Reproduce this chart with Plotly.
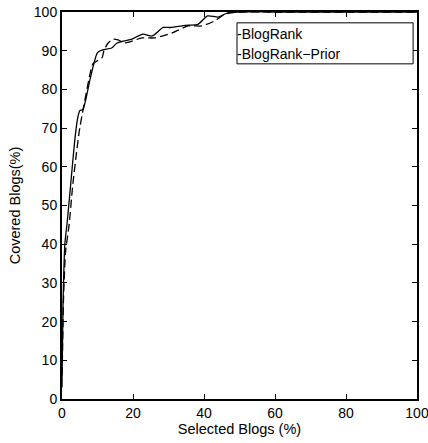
import plotly.graph_objects as go

# BlogRank (linea continua)
x_rank = [0, 0.3, 0.8, 1.5, 2.5, 3.5, 4.3, 5.0, 5.9, 8.0, 10.0, 11.5, 14.0, 15.5,
          19.7, 22.8, 25.4, 28.5, 30.4, 35.5, 38.3, 41.0, 44.0, 46.7, 50.0, 60.0, 100.0]
y_rank = [5, 25, 40, 46, 56, 66, 72, 74.5, 74.8, 83, 89.5, 90.2, 90.7, 92,
          93, 94.3, 93.8, 96, 96, 96.6, 96.8, 99, 98.7, 99.8, 100, 100, 100]

# BlogRank-Prior (linea discontinua)
x_prior = [0, 0.4, 1.0, 2.0, 3.0, 4.0, 5.0, 7.9, 8.7, 11.3, 11.8, 13.0, 14.4, 15.8,
           17.7, 22.5, 26.0, 31.0, 35.5, 39.4, 43.0, 46.0, 50.0, 60.0, 100.0]
y_prior = [3, 25, 38, 45, 55, 63, 70, 84, 86.6, 88.2, 90, 92, 93, 92.8,
           92, 93.3, 93.3, 94.6, 96.4, 96.4, 97.7, 99.5, 100, 100, 100]

nombres = ["BlogRank", "BlogRank\u2212Prior"]

fig = go.Figure()
fig.add_trace(go.Scatter(x=x_rank, y=y_rank, mode="lines", name=nombres[0],
                         line=dict(color="black", width=1.3, shape="spline", smoothing=0.6)))
fig.add_trace(go.Scatter(x=x_prior, y=y_prior, mode="lines", name=nombres[1],
                         line=dict(color="black", width=1.3, dash="8px,4px",
                                   shape="spline", smoothing=0.6)))

eje = dict(showline=True, linecolor="black", linewidth=2, mirror="ticks",
           ticks="inside", ticklen=5, tickcolor="black", showgrid=False, zeroline=False,
           automargin=False, ticklabeloverflow="allow", tickfont=dict(size=14, color="black"))

fig.update_xaxes(range=[0, 100], dtick=20, title=dict(text="Selected Blogs (%)", standoff=3,
                 font=dict(size=14.5, color="black")), **eje)
fig.update_yaxes(range=[0, 100], dtick=10, title=dict(text="Covered Blogs(%)", standoff=10,
                 font=dict(size=14.5, color="black")), **eje)

# Leyenda al estilo MATLAB: caja con una rayita antes de cada nombre
fig.add_shape(type="rect", xref="paper", yref="paper", x0=0.493, x1=0.989, y0=0.866, y1=0.972,
              line=dict(color="black", width=1), fillcolor="white", layer="above")
for i, nombre in enumerate(nombres):
    fig.add_annotation(xref="paper", yref="paper", x=0.493, y=0.944 - i * 0.052,
                       xanchor="left", yanchor="middle", showarrow=False,
                       text="-" + nombre, font=dict(size=14, color="black"), xshift=-2)

fig.update_layout(
    width=428, height=443,
    margin=dict(l=62, r=11, t=12, b=44),
    paper_bgcolor="white", plot_bgcolor="white",
    font=dict(family="Liberation Sans, Arial, sans-serif", size=14, color="black"),
    showlegend=False,
)

# sin el margen por defecto del body ni barras de scroll, la figura empieza en (0, 0)
fig.write_html("out.html", config={"displayModeBar": False},
               post_script="document.body.style.margin='0';document.body.style.overflow='hidden';")
